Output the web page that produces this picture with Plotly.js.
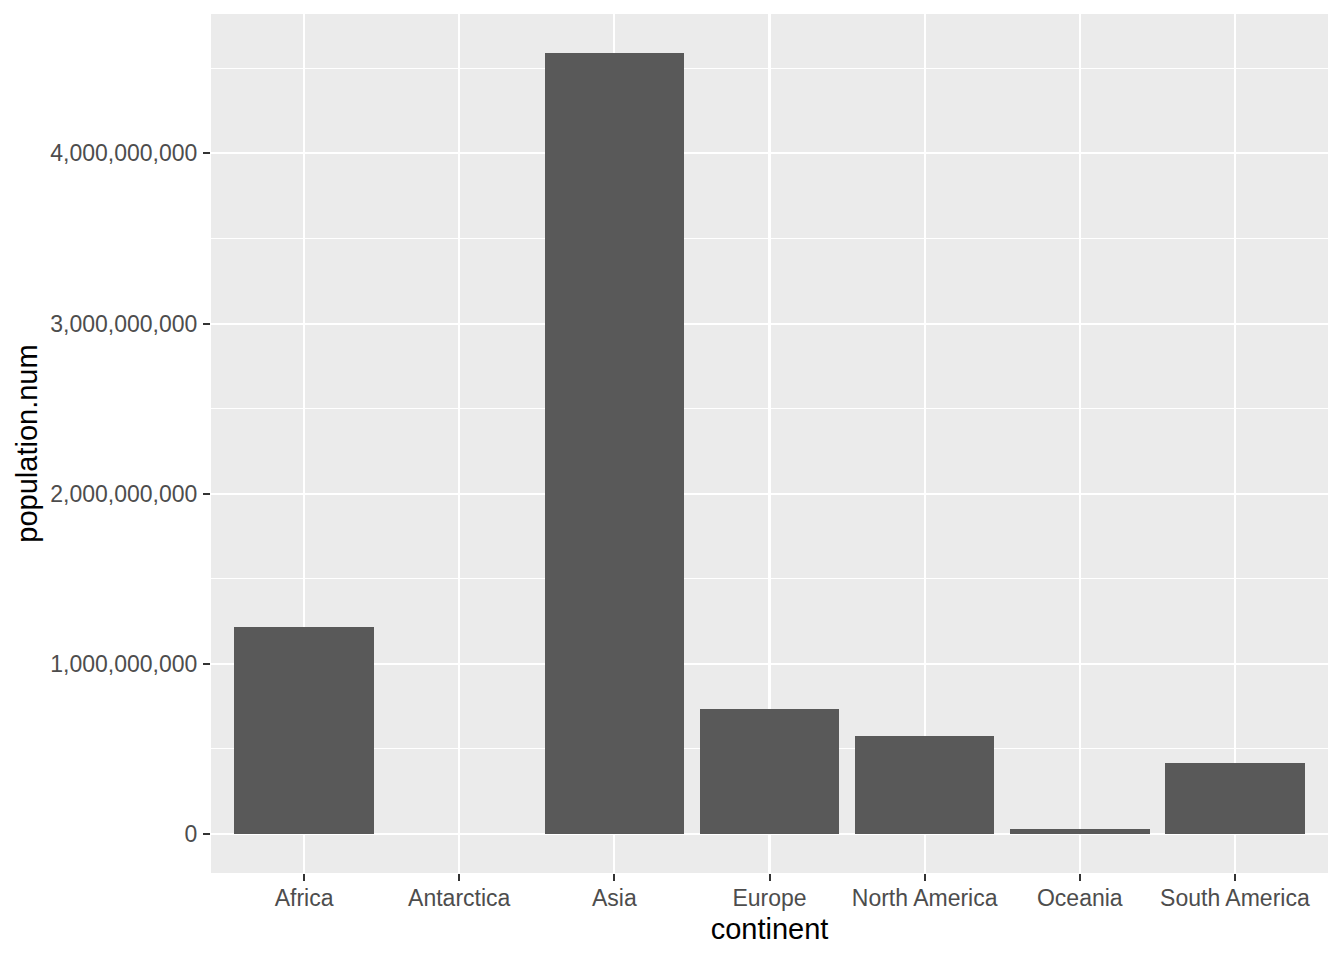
<!DOCTYPE html>
<html>
<head>
<meta charset="utf-8">
<script src="https://cdn.plot.ly/plotly-3.0.1.min.js"></script>
<style>html,body{margin:0;padding:0;background:#fff;}#chart{width:1344px;height:960px;}</style>
</head>
<body>
<div id="chart"></div>
<script>
const continents = ["Africa", "Antarctica", "Asia", "Europe", "North America", "Oceania", "South America"];
const populationNum = [1214000000, 0, 4590000000, 737000000, 573000000, 32000000, 420000000];
const yTickValues = [0, 1000000000, 2000000000, 3000000000, 4000000000];

const trace = {
  type: "bar",
  x: continents,
  y: populationNum,
  width: 0.9,
  marker: {color: "#595959", line: {width: 0}},
  hoverinfo: "x+y"
};

const layout = {
  width: 1344,
  height: 960,
  margin: {l: 211, r: 16, t: 14, b: 87},
  paper_bgcolor: "#FFFFFF",
  plot_bgcolor: "#EBEBEB",
  showlegend: false,
  font: {family: "Liberation Sans, Arial, sans-serif"},
  bargap: 0,
  xaxis: {
    type: "category",
    range: [-0.6, 6.6],
    showgrid: true,
    gridcolor: "#FFFFFF",
    gridwidth: 2.1,
    zeroline: false,
    showline: false,
    ticks: "outside",
    ticklen: 7,
    tickwidth: 2,
    tickcolor: "#333333",
    tickfont: {size: 23, color: "#4D4D4D"},
    ticklabelstandoff: -3,
    title: {text: "continent", font: {size: 29, color: "#000000"}, standoff: 9},
    automargin: false,
    fixedrange: true
  },
  yaxis: {
    range: [-229500000, 4819500000],
    tickvals: yTickValues,
    tickformat: ",d",
    showgrid: true,
    gridcolor: "#FFFFFF",
    gridwidth: 2.1,
    zeroline: false,
    showline: false,
    ticks: "outside",
    ticklen: 7,
    tickwidth: 2,
    tickcolor: "#333333",
    tickfont: {size: 23, color: "#4D4D4D"},
    ticklabelstandoff: 1,
    minor: {dtick: 500000000, tick0: 0, showgrid: true, gridcolor: "#FFFFFF", gridwidth: 1, ticks: ""},
    title: {text: "population.num", font: {size: 29, color: "#000000"}, standoff: 4},
    automargin: false,
    fixedrange: true
  }
};

Plotly.newPlot("chart", [trace], layout, {displayModeBar: false, staticPlot: true});
</script>
</body>
</html>
